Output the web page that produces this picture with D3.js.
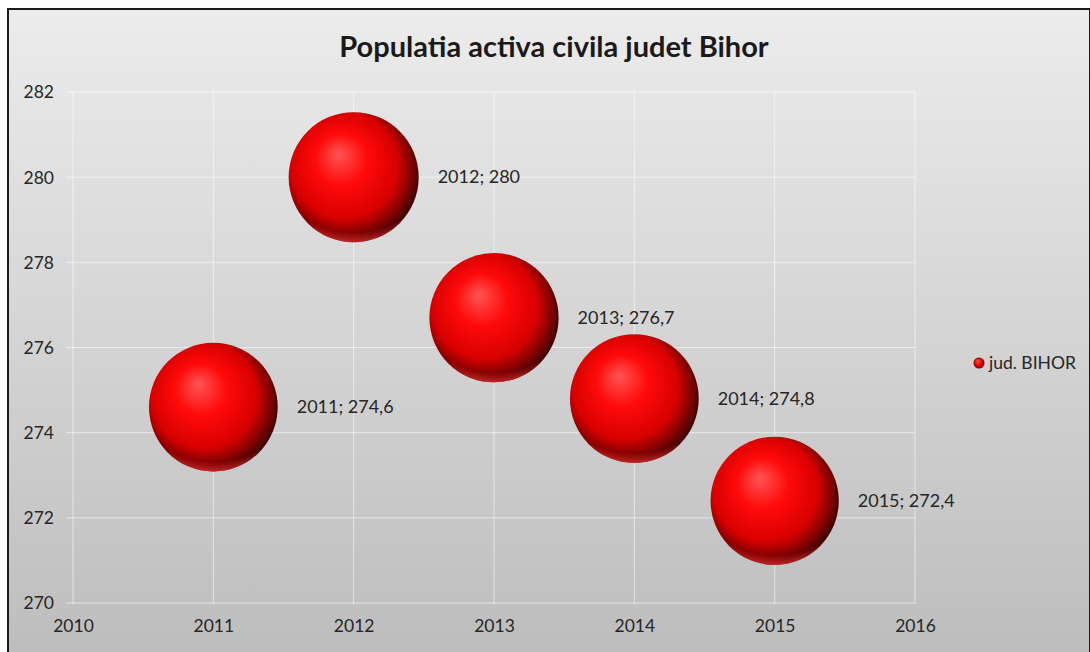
<!DOCTYPE html>
<html>
<head>
<meta charset="utf-8">
<script src="https://cdn.jsdelivr.net/npm/d3@7"></script>
<style>
  body { margin: 0; background: #fff; }
  text { font-family: Lato, "Open Sans", sans-serif; }
</style>
</head>
<body>
<script>
// chart data
var years = [2011, 2012, 2013, 2014, 2015];
var values = [274.6, 280, 276.7, 274.8, 272.4];
var labels = ["2011; 274,6", "2012; 280", "2013; 276,7", "2014; 274,8", "2015; 272,4"];
var xTicks = [2010, 2011, 2012, 2013, 2014, 2015, 2016];
var yTicks = [270, 272, 274, 276, 278, 280, 282];
var seriesName = "jud. BIHOR";
var title = "Populatia activa civila judet Bihor";

var width = 1090, height = 652;

var svg = d3.select("body").append("svg")
    .attr("width", width)
    .attr("height", height);

var defs = svg.append("defs");

// chart background
var bg = defs.append("linearGradient").attr("id", "bg")
    .attr("x1", 0).attr("y1", 0).attr("x2", 0).attr("y2", 1);
bg.append("stop").attr("offset", "0%").attr("stop-color", "#ececec");
bg.append("stop").attr("offset", "100%").attr("stop-color", "#bdbdbd");

// sphere shading
var ball = defs.append("radialGradient").attr("id", "ball")
    .attr("cx", "45%").attr("cy", "45%").attr("r", "58%")
    .attr("fx", "38%").attr("fy", "32%");
ball.append("stop").attr("offset", "0%").attr("stop-color", "#ff5555");
ball.append("stop").attr("offset", "35%").attr("stop-color", "#ff0a0a");
ball.append("stop").attr("offset", "70%").attr("stop-color", "#d80000");
ball.append("stop").attr("offset", "88%").attr("stop-color", "#7a0000");
ball.append("stop").attr("offset", "100%").attr("stop-color", "#300000");

// rim light at the bottom
var rim = defs.append("radialGradient").attr("id", "rim")
    .attr("cx", "50%").attr("cy", "20%").attr("r", "85%");
rim.append("stop").attr("offset", "85%").attr("stop-color", "#ff3030").attr("stop-opacity", 0);
rim.append("stop").attr("offset", "96%").attr("stop-color", "#ff3a3a").attr("stop-opacity", 0.8);
rim.append("stop").attr("offset", "100%").attr("stop-color", "#ff5050").attr("stop-opacity", 0.9);

var legBall = defs.append("radialGradient").attr("id", "legball")
    .attr("fx", "35%").attr("fy", "30%");
legBall.append("stop").attr("offset", "0%").attr("stop-color", "#ff5050");
legBall.append("stop").attr("offset", "70%").attr("stop-color", "#e00000");
legBall.append("stop").attr("offset", "100%").attr("stop-color", "#700000");

svg.append("rect")
    .attr("x", 8).attr("y", 9)
    .attr("width", 1082).attr("height", 645)
    .attr("fill", "url(#bg)")
    .attr("stroke", "#1a1a1a")
    .attr("stroke-width", 2);

// scales
var x = d3.scaleLinear().domain([2010, 2016]).range([73, 915]);
var y = d3.scaleLinear().domain([270, 282]).range([603, 92]);
var r = d3.scaleSqrt().domain([0, 280]).range([0, 65]);

// gridlines
svg.append("g").selectAll("line").data(yTicks).enter().append("line")
    .attr("x1", 66).attr("x2", 915)
    .attr("y1", function(d) { return y(d); })
    .attr("y2", function(d) { return y(d); })
    .attr("stroke", "#ffffff").attr("stroke-opacity", 0.55).attr("stroke-width", 1);

svg.append("g").selectAll("line").data(xTicks).enter().append("line")
    .attr("x1", function(d) { return x(d); })
    .attr("x2", function(d) { return x(d); })
    .attr("y1", 92).attr("y2", 604)
    .attr("stroke", "#ffffff").attr("stroke-opacity", 0.55).attr("stroke-width", 1);

// axes labels
var yAxis = d3.axisLeft(y).tickValues(yTicks).tickSize(0).tickPadding(19);
var gy = svg.append("g").attr("transform", "translate(73,0)").call(yAxis);
var xAxis = d3.axisBottom(x).tickValues(xTicks).tickSize(0).tickPadding(17)
    .tickFormat(d3.format("d"));
var gx = svg.append("g").attr("transform", "translate(0,603)").call(xAxis);
[gy, gx].forEach(function(g) {
    g.select(".domain").remove();
    g.selectAll("text")
        .attr("fill", "#262626")
        .style("font-size", "17.5px")
        .style("font-family", "Lato, 'Open Sans', sans-serif");
});
gy.selectAll("text").attr("dy", "0.34em");

// bubbles
var points = years.map(function(d, i) {
    return { year: d, value: values[i], label: labels[i] };
});

var bubbles = svg.append("g").selectAll("g").data(points).enter().append("g");
bubbles.append("circle")
    .attr("cx", function(d) { return x(d.year); })
    .attr("cy", function(d) { return y(d.value); })
    .attr("r", function(d) { return r(d.value); })
    .attr("fill", "url(#ball)");
bubbles.append("circle")
    .attr("cx", function(d) { return x(d.year); })
    .attr("cy", function(d) { return y(d.value); })
    .attr("r", function(d) { return r(d.value); })
    .attr("fill", "url(#rim)");

bubbles.append("text")
    .attr("x", function(d) { return x(d.year) + r(d.value) + 19; })
    .attr("y", function(d) { return y(d.value); })
    .attr("dy", "0.35em")
    .attr("fill", "#262626")
    .style("font-size", "18px")
    .text(function(d) { return d.label; });

// title
svg.append("text")
    .attr("x", 554).attr("y", 57)
    .attr("text-anchor", "middle")
    .attr("fill", "#1a1a1a")
    .style("font-size", "29px")
    .style("font-weight", "bold")
    .text(title);

// legend
svg.append("circle")
    .attr("cx", 979).attr("cy", 363).attr("r", 5.5)
    .attr("fill", "url(#legball)");
svg.append("text")
    .attr("x", 989).attr("y", 363)
    .attr("dy", "0.35em")
    .attr("fill", "#262626")
    .style("font-size", "17.5px")
    .text(seriesName);
</script>
</body>
</html>
